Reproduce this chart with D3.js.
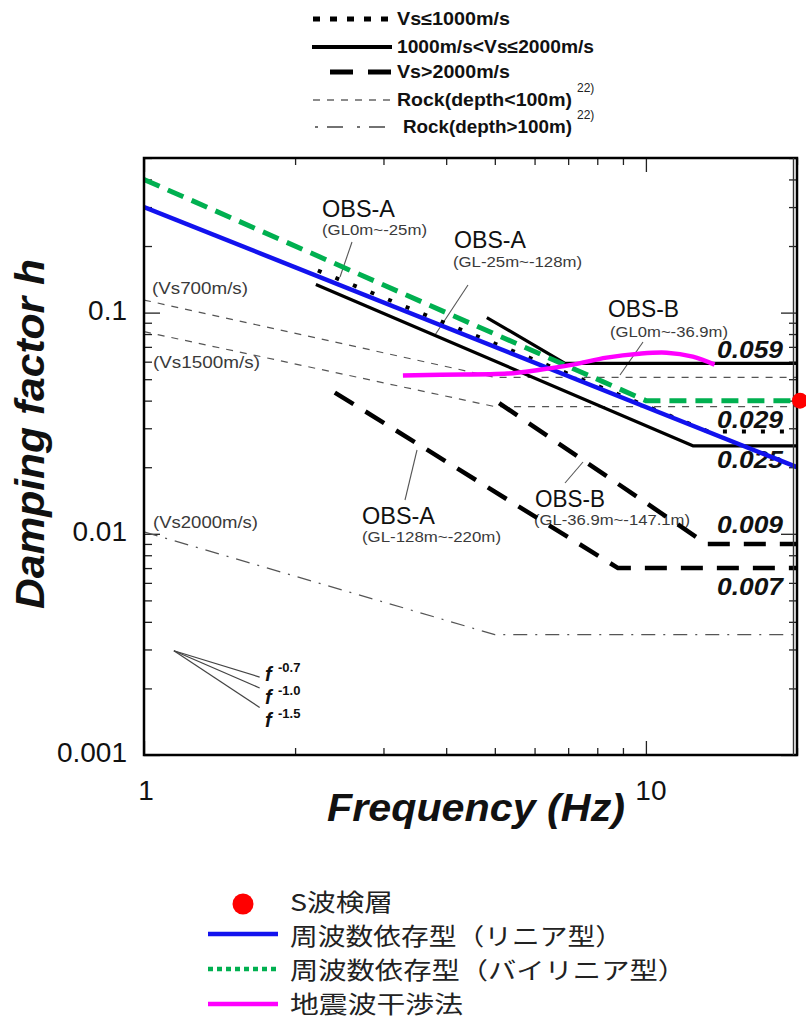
<!DOCTYPE html>
<html><head><meta charset="utf-8">
<script src="https://cdn.jsdelivr.net/npm/d3@7"></script>
<style>body{margin:0;background:#fff}svg{display:block}</style>
</head><body>
<script>
// ---------- axes ----------
const xDomain = [1, 20];
const yDomain = [0.001, 0.5];
const xMajorTicks = [1, 10];
const xTickText = ["1", "10"];
const yMajorTicks = [0.001, 0.01, 0.1];
const yTickText = ["0.001", "0.01", "0.1"];

// ---------- series: [frequency Hz, damping h] ----------
const linearFreqDep   = [[1, 0.30], [20, 0.020]];                 // 周波数依存型（リニア型）
const bilinearFreqDep = [[1, 0.40], [10, 0.040], [20, 0.040]];    // 周波数依存型（バイリニア型）
const seismicInterf   = [[3.28, 0.0519], [3.9, 0.0524], [5.3, 0.0530], [6.15, 0.0552],
                         [7.15, 0.0582], [8.35, 0.0626], [9.7, 0.0652], [11.0, 0.0659],
                         [12.4, 0.0632], [13.7, 0.0582]];         // 地震波干渉法
const sWaveLogging    = [[20, 0.040]];                             // S波検層

const obsA_0_25       = [[2.22, 0.155], [13.3, 0.029], [20, 0.029]];   // Vs<=1000
const obsA_25_128     = [[2.2, 0.134], [12.4, 0.025], [20, 0.025]];    // 1000<Vs<=2000
const obsB_0_369      = [[4.82, 0.095], [6.9, 0.059], [20, 0.059]];    // 1000<Vs<=2000
const obsB_369_1471   = [[5.1, 0.039], [13.2, 0.009], [20, 0.009]];    // Vs>2000
const obsA_128_220    = [[2.4, 0.0435], [8.8, 0.007], [20, 0.007]];    // Vs>2000

const rockVs700       = [[1, 0.114], [5, 0.051], [20, 0.051]];
const rockVs1500      = [[1, 0.082], [5, 0.0376], [20, 0.0376]];
const rockVs2000      = [[1, 0.0102], [5, 0.0035], [20, 0.0035]];

// slope guide: common origin and end points of f^-0.7, f^-1.0, f^-1.5
const slopeOrigin     = [1.147, 0.00296];
const slopeEnds       = [[1.70, 0.00225], [1.70, 0.00201], [1.70, 0.00164]];
const slopeText       = ["-0.7", "-1.0", "-1.5"];

// ---------- layout ----------
const W = 806, H = 1021;
const L = 144, R = 797, T = 158, B = 755;
const FONT = "'Liberation Sans', Arial, Helvetica, sans-serif";
const CJK = "'Noto Sans CJK JP', 'Noto Sans CJK SC', sans-serif";

const svg = d3.select("body").append("svg").attr("width", W).attr("height", H)
  .style("font-family", FONT);

const x = d3.scaleLog().domain(xDomain).range([L, R]);
const y = d3.scaleLog().domain(yDomain).range([B, T]);
const line = d3.line().x(d => x(d[0])).y(d => y(d[1]));

function txt(g, px, py, s, o = {}) {
  const t = g.append("text").attr("x", px).attr("y", py).text(s)
    .attr("font-size", o.size || 16)
    .attr("font-weight", o.weight || "normal")
    .attr("font-style", o.style || "normal")
    .attr("fill", o.fill || "#111")
    .attr("text-anchor", o.anchor || "start");
  if (o.family) t.attr("font-family", o.family);
  if (o.len) t.attr("textLength", o.len).attr("lengthAdjust", "spacingAndGlyphs");
  return t;
}

svg.append("defs").append("clipPath").attr("id", "plotclip")
  .append("rect").attr("x", L).attr("y", T).attr("width", R - L).attr("height", B - T);

// ---------- ticks (inward) ----------
const xMinor = x.ticks().filter(v => !xMajorTicks.includes(v));
const yMinor = y.ticks().filter(v => !yMajorTicks.some(m => Math.abs(m - v) < 1e-12));
const tickStyle = g => { g.select(".domain").remove(); g.selectAll("line").attr("stroke", "#222").attr("stroke-width", 1.3); g.selectAll("text").remove(); };

svg.append("g").attr("transform", `translate(0,${B})`).call(d3.axisBottom(x).tickValues(xMinor).tickSize(-7)).call(tickStyle);
svg.append("g").attr("transform", `translate(0,${B})`).call(d3.axisBottom(x).tickValues(xMajorTicks).tickSize(-14)).call(tickStyle);
svg.append("g").attr("transform", `translate(0,${T})`).call(d3.axisTop(x).tickValues(xMinor).tickSize(-7)).call(tickStyle);
svg.append("g").attr("transform", `translate(0,${T})`).call(d3.axisTop(x).tickValues(xMajorTicks).tickSize(-14)).call(tickStyle);
svg.append("g").attr("transform", `translate(${L},0)`).call(d3.axisLeft(y).tickValues(yMinor).tickSize(-8)).call(tickStyle);
svg.append("g").attr("transform", `translate(${L},0)`).call(d3.axisLeft(y).tickValues(yMajorTicks).tickSize(-16)).call(tickStyle);
svg.append("g").attr("transform", `translate(${R},0)`).call(d3.axisRight(y).tickValues(yMinor).tickSize(-8)).call(tickStyle);
svg.append("g").attr("transform", `translate(${R},0)`).call(d3.axisRight(y).tickValues(yMajorTicks).tickSize(-16)).call(tickStyle);

// tick labels
xMajorTicks.forEach((v, i) => txt(svg, x(v) + (i ? 5 : 2), 800, xTickText[i], { size: 28, anchor: "middle" }));
yMajorTicks.forEach((v, i) => txt(svg, 127, y(v) + 7, yTickText[i], { size: 28, anchor: "end" }));

// axis titles
txt(svg, 476, 821, "Frequency (Hz)", { size: 39, weight: "bold", style: "italic", anchor: "middle", len: 298 });
txt(svg, 0, 0, "Damping factor h", { size: 40, weight: "bold", style: "italic", anchor: "middle", len: 350 })
  .attr("transform", "translate(44,434) rotate(-90)");

// ---------- annotations ----------
const ann = svg.append("g");
const gray = "#3a3a3a";
txt(ann, 322, 217, "OBS-A", { size: 23, len: 73 });
txt(ann, 322, 235, "(GL0m~-25m)", { size: 14, fill: gray, len: 105 });
txt(ann, 454, 248, "OBS-A", { size: 23, len: 72 });
txt(ann, 453, 267, "(GL-25m~-128m)", { size: 14, fill: gray, len: 129 });
txt(ann, 608, 317, "OBS-B", { size: 23, len: 71 });
txt(ann, 610, 337, "(GL0m~-36.9m)", { size: 14, fill: gray, len: 118 });
txt(ann, 535, 507, "OBS-B", { size: 23, len: 70 });
txt(ann, 534, 525, "(GL-36.9m~-147.1m)", { size: 14, fill: gray, len: 156 });
txt(ann, 362, 524, "OBS-A", { size: 23, len: 73 });
txt(ann, 362, 542, "(GL-128m~-220m)", { size: 14, fill: gray, len: 139 });
txt(ann, 152, 294, "(Vs700m/s)", { size: 17, fill: gray, len: 96 });
txt(ann, 153, 368, "(Vs1500m/s)", { size: 17, fill: gray, len: 107 });
txt(ann, 153, 528, "(Vs2000m/s)", { size: 17, fill: gray, len: 105 });

const leaders = [[352, 242, 340, 277], [468, 285, 435, 335], [643, 342, 620, 375],
                 [583, 462, 565, 483], [417, 450, 405, 500]];
ann.selectAll(".leader").data(leaders).join("line")
  .attr("x1", d => d[0]).attr("y1", d => d[1]).attr("x2", d => d[2]).attr("y2", d => d[3])
  .attr("stroke", "#555").attr("stroke-width", 1.1);

// slope guide
const sg = svg.append("g");
slopeEnds.forEach((e, i) => {
  sg.append("path").attr("d", line([slopeOrigin, e])).attr("fill", "none").attr("stroke", "#444").attr("stroke-width", 1.2);
  const by = [681, 704, 727][i];
  txt(sg, 265, by, "f", { size: 20, weight: "bold", style: "italic", fill: "#111" });
  txt(sg, 278, by - 9, slopeText[i], { size: 13, weight: "bold", fill: "#111" });
});

// value labels at the flat parts
const valueLabels = [
  { s: obsB_0_369, dy: -5 }, { s: obsA_0_25, dy: -4 }, { s: obsA_25_128, dy: 22 },
  { s: obsB_369_1471, dy: -11 }, { s: obsA_128_220, dy: 27 }];
valueLabels.forEach(v => {
  const val = v.s[v.s.length - 1][1];
  txt(svg, 783, y(val) + v.dy, d3.format(".3f")(val), { size: 24, weight: "bold", style: "italic", anchor: "end", len: 66 });
});

// ---------- curves ----------
const plot = svg.append("g").attr("clip-path", "url(#plotclip)");
function draw(data, stroke, width, dash) {
  const p = plot.append("path").attr("d", line(data)).attr("fill", "none")
    .attr("stroke", stroke).attr("stroke-width", width).attr("stroke-linejoin", "round");
  if (dash) p.attr("stroke-dasharray", dash);
  return p;
}
draw(rockVs700, "#555", 1.2, "7,7");
draw(rockVs1500, "#555", 1.2, "7,7");
draw(rockVs2000, "#555", 1.2, "14,8,2,8");

draw(obsA_0_25, "#000", 4, "4,15");
draw(obsA_25_128, "#000", 3.2);
draw(obsB_0_369, "#000", 3.2);
draw(obsB_369_1471, "#000", 4.5, "22,14");
draw(obsA_128_220, "#000", 4.5, "22,14");

draw(linearFreqDep, "#1212ee", 4.5);
draw(bilinearFreqDep, "#00b050", 5, "17,9");
plot.append("path")
  .attr("d", d3.line().x(d => x(d[0])).y(d => y(d[1])).curve(d3.curveCatmullRom)(seismicInterf))
  .attr("fill", "none").attr("stroke", "#ff00ff").attr("stroke-width", 4.5);

// frame (double line on the right)
svg.append("rect").attr("x", L).attr("y", T).attr("width", R - L).attr("height", B - T)
  .attr("fill", "none").attr("stroke", "#000").attr("stroke-width", 2.5);
svg.append("line").attr("x1", R - 3.5).attr("x2", R - 3.5).attr("y1", T).attr("y2", B)
  .attr("stroke", "#333").attr("stroke-width", 1.4);

svg.selectAll(".swl").data(sWaveLogging).join("circle")
  .attr("cx", d => x(d[0]) + 3).attr("cy", d => y(d[1])).attr("r", 8).attr("fill", "#ff0000");

// ---------- top legend ----------
const lg = svg.append("g");
const topLegend = [
  { t: "Vs≤1000m/s", dash: "7,10", w: 5, c: "#000", x1: 313, x2: 392, y: 19, tx: 397, len: 113 },
  { t: "1000m/s<Vs≤2000m/s", dash: null, w: 4, c: "#000", x1: 312, x2: 392, y: 47, tx: 397, len: 197 },
  { t: "Vs>2000m/s", dash: "23,15", w: 5, c: "#000", x1: 330, x2: 391, y: 72, tx: 397, len: 113 },
  { t: "Rock(depth<100m)", dash: "7,7", w: 1.3, c: "#666", x1: 313, x2: 392, y: 100, tx: 397, len: 175, sup: true },
  { t: "Rock(depth>100m)", dash: "3,9,16,14", w: 1.6, c: "#444", x1: 315, x2: 390, y: 127, tx: 403, len: 169, sup: true }
];
topLegend.forEach(d => {
  const l = lg.append("line").attr("x1", d.x1).attr("x2", d.x2).attr("y1", d.y).attr("y2", d.y)
    .attr("stroke", d.c).attr("stroke-width", d.w);
  if (d.dash) l.attr("stroke-dasharray", d.dash);
  txt(lg, d.tx, d.y + 6, d.t, { size: 18, weight: "bold", len: d.len });
  if (d.sup) txt(lg, d.tx + d.len + 5, d.y - 8, "22)", { size: 12, fill: "#222" });
});

// ---------- bottom legend ----------
const bl = svg.append("g");
bl.append("circle").attr("cx", 243).attr("cy", 904).attr("r", 10.5).attr("fill", "#ff0000");
bl.append("line").attr("x1", 208).attr("x2", 278).attr("y1", 934).attr("y2", 934).attr("stroke", "#1212ee").attr("stroke-width", 4.5);
bl.append("line").attr("x1", 208).attr("x2", 278).attr("y1", 969).attr("y2", 969).attr("stroke", "#00b050").attr("stroke-width", 4.5).attr("stroke-dasharray", "5,4");
bl.append("line").attr("x1", 208).attr("x2", 278).attr("y1", 1004).attr("y2", 1004).attr("stroke", "#ff00ff").attr("stroke-width", 4.5);
const bottomText = ["S波検層", "周波数依存型（リニア型）", "周波数依存型（バイリニア型）", "地震波干渉法"];
const bottomLen = [103, 333, 396, 173];
[911, 945, 979, 1013].forEach((by, i) =>
  txt(bl, 290, by, bottomText[i], { size: 23.5, family: CJK, fill: "#222", len: bottomLen[i] }));
</script>
</body></html>
